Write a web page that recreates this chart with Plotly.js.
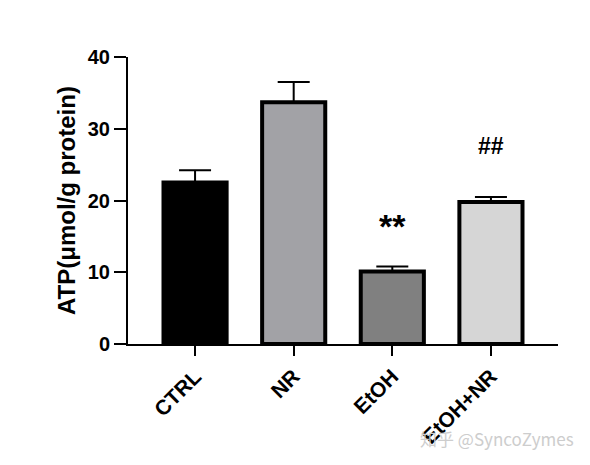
<!DOCTYPE html>
<html>
<head>
<meta charset="utf-8">
<script src="https://cdn.plot.ly/plotly-3.0.1.min.js"></script>
<style>body{margin:0;background:#fff}#chart{width:590px;height:465px}</style>
</head>
<body>
<div id="chart"></div>
<script>
const categories = ["CTRL", "NR", "EtOH", "EtOH+NR"];
const atpValues = [22.5, 33.7, 10.1, 19.8];
const atpErrors = [1.7, 2.8, 0.7, 0.7];
const barColors = ["#000000", "#a2a2a6", "#808080", "#d6d6d6"];
const significance = ["", "", "**", "##"];
const significanceY = [0, 0, 16.4, 27.6];
const yTicks = [0, 10, 20, 30, 40];

const font = "Liberation Sans, Arial, sans-serif";

const trace = {
  type: "bar",
  x: categories,
  y: atpValues,
  width: 0.64,
  marker: {color: barColors, line: {color: "#000", width: 4}},
  error_y: {type: "data", array: atpErrors, arrayminus: atpErrors.map(() => 0), symmetric: false,
            color: "#000", thickness: 2, width: 16},
  hoverinfo: "skip"
};

const L = 128, R = 32, T = 57, B = 121;
const pw = 590 - L - R, ph = 465 - T - B;

const annotations = [];
categories.forEach((c, i) => {
  if (significance[i] === "**") {
    annotations.push({x: c, y: significanceY[i], text: significance[i], showarrow: false,
      font: {family: font, size: 34, color: "#000", weight: "bold"}, xref: "x", yref: "y"});
  } else if (significance[i]) {
    annotations.push({x: c, y: significanceY[i], text: significance[i], showarrow: false,
      font: {family: font, size: 23, color: "#000", weight: "bold"}, xref: "x", yref: "y"});
  }
});
annotations.push({x: (576 - L) / pw, y: (465 - B - 438) / ph, xref: "paper", yref: "paper",
  text: "知乎 @SyncoZymes", showarrow: false, xanchor: "right", yanchor: "middle",
  font: {family: "Noto Sans CJK SC, sans-serif", size: 17, color: "#cdcdcd"}});

const layout = {
  width: 590, height: 465,
  margin: {l: L, r: R, t: T, b: B},
  paper_bgcolor: "#fff", plot_bgcolor: "#fff",
  showlegend: false,
  xaxis: {
    type: "category", range: [-0.68, 3.68],
    showline: true, linecolor: "#000", linewidth: 2,
    ticks: "outside", ticklen: 10, tickwidth: 2, tickcolor: "#000",
    tickangle: -45, showgrid: false, zeroline: false,
    tickfont: {family: font, size: 21, color: "#000", weight: "bold"}
  },
  yaxis: {
    range: [0, 40], tickvals: yTicks,
    showline: true, linecolor: "#000", linewidth: 2,
    ticks: "outside", ticklen: 12, tickwidth: 2, tickcolor: "#000",
    showgrid: false, zeroline: false,
    tickfont: {family: font, size: 20, color: "#000", weight: "bold"},
    title: {text: "ATP(μmol/g protein)", font: {family: font, size: 24, color: "#000", weight: "bold"}, standoff: 5}
  },
  annotations: annotations
};

Plotly.newPlot("chart", [trace], layout, {displayModeBar: false, staticPlot: true});
</script>
</body>
</html>
